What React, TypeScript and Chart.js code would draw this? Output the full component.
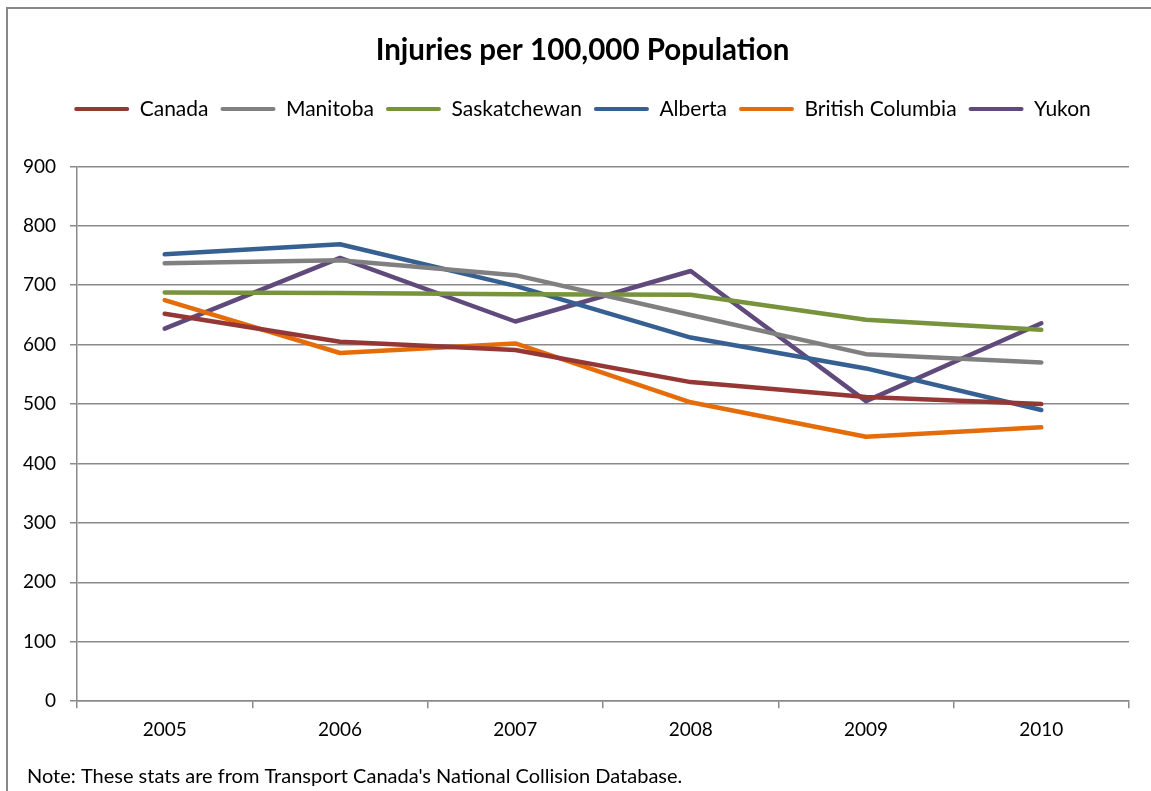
import React, { useEffect, useRef } from "react";
import { Chart, registerables } from "chart.js";

Chart.register(...registerables);

const years = ["2005", "2006", "2007", "2008", "2009", "2010"];

const canada = [652, 605, 591, 537, 512, 500];
const manitoba = [737, 742, 717, 650, 584, 570];
const saskatchewan = [688, 687, 685, 684, 642, 625];
const alberta = [752, 769, 699, 612, 560, 490];
const britishColumbia = [675, 586, 602, 503, 445, 461];
const yukon = [627, 746, 639, 724, 505, 636];

const yTicks = [0, 100, 200, 300, 400, 500, 600, 700, 800, 900];

const FONT = "Lato, 'Open Sans', sans-serif";

// White background, grey frame and the source note under the axis.
const frameAndNote = {
  id: "frameAndNote",
  beforeInit(chart: any) {
    // leave a gap between the legend row and the plot area
    const legend = chart.legend;
    if (legend) {
      const fit = legend.fit.bind(legend);
      legend.fit = function () {
        fit();
        this.height += 37;
      };
    }
  },
  afterLayout(chart: any) {
    // let the value labels use the margin left of the axis box
    const y = chart.scales.y;
    if (y) y.left = 0;
  },
  beforeDraw(chart: any) {
    const { ctx, width, height } = chart;
    ctx.save();
    ctx.fillStyle = "#ffffff";
    ctx.fillRect(0, 0, width, height);
    ctx.strokeStyle = "#878787";
    ctx.lineWidth = 2;
    ctx.strokeRect(7, 8, width + 50, height + 50);
    ctx.restore();
  },
  afterDraw(chart: any) {
    const { ctx } = chart;
    ctx.save();
    ctx.fillStyle = "#000000";
    ctx.font = `20px ${FONT}`;
    ctx.textBaseline = "middle";
    ctx.textAlign = "left";
    ctx.fillText(
      "Note: These stats are from Transport Canada's National Collision Database.",
      27,
      777
    );
    ctx.restore();
  },
};

export default function App() {
  const canvasRef = useRef<HTMLCanvasElement | null>(null);

  useEffect(() => {
    document.body.style.margin = "0";
    const canvas = canvasRef.current;
    if (!canvas) return;

    const series = [
      { label: "Canada", data: canada, color: "#953735" },
      { label: "Manitoba", data: manitoba, color: "#808080" },
      { label: "Saskatchewan", data: saskatchewan, color: "#77933c" },
      { label: "Alberta", data: alberta, color: "#376092" },
      { label: "British Columbia", data: britishColumbia, color: "#e46c0a" },
      { label: "Yukon", data: yukon, color: "#604a7b" },
    ];

    const chart = new Chart(canvas, {
      type: "line",
      data: {
        labels: years,
        datasets: series.map((s) => ({
          label: s.label,
          data: s.data,
          borderColor: s.color,
          backgroundColor: s.color,
          borderWidth: 4.5,
          borderCapStyle: "round",
          borderJoinStyle: "round",
          pointRadius: 0,
          pointHoverRadius: 0,
          tension: 0,
          fill: false,
        })),
      },
      options: {
        responsive: false,
        animation: false,
        layout: { padding: { left: 36, right: 22, top: 0, bottom: 40 } },
        plugins: {
          title: {
            display: true,
            text: "Injuries per 100,000 Population",
            color: "#000000",
            font: { family: FONT, size: 29.5, weight: "bold" },
            padding: { top: 33, bottom: 18 },
          },
          legend: {
            display: true,
            position: "top",
            labels: {
              color: "#000000",
              font: { family: FONT, size: 21 },
              boxWidth: 55,
              boxHeight: 4,
              padding: 12,
              generateLabels: (c: any) =>
                c.data.datasets.map((d: any, i: number) => ({
                  text: d.label,
                  fillStyle: d.borderColor,
                  strokeStyle: d.borderColor,
                  lineWidth: 0,
                  borderRadius: 2,
                  hidden: false,
                  datasetIndex: i,
                  fontColor: "#000000",
                })),
            },
          },
          tooltip: { enabled: false },
        },
        scales: {
          x: {
            offset: true,
            grid: {
              offset: true,
              drawOnChartArea: false,
              drawTicks: true,
              tickLength: 7,
              color: "#8a8a8a",
              lineWidth: 1.5,
            },
            border: { color: "#8a8a8a", width: 1.5 },
            ticks: {
              color: "#000000",
              font: { family: FONT, size: 19 },
              padding: 10,
              maxRotation: 0,
            },
          },
          y: {
            min: 0,
            max: 900,
            afterBuildTicks: (axis: any) => {
              axis.ticks = yTicks.map((v) => ({ value: v }));
            },
            afterFit: (axis: any) => {
              axis.width = 41;
            },
            grid: {
              color: "#8a8a8a",
              lineWidth: 1.5,
              drawTicks: true,
              tickLength: 7,
            },
            border: { color: "#8a8a8a", width: 1.5 },
            ticks: {
              color: "#000000",
              font: { family: FONT, size: 19 },
              padding: 14,
            },
          },
        },
      },
      plugins: [frameAndNote],
    });

    return () => chart.destroy();
  }, []);

  return (
    <div style={{ position: "absolute", left: 0, top: 0, width: 1151, height: 791 }}>
      <canvas ref={canvasRef} width={1151} height={791} style={{ display: "block" }} />
    </div>
  );
}
